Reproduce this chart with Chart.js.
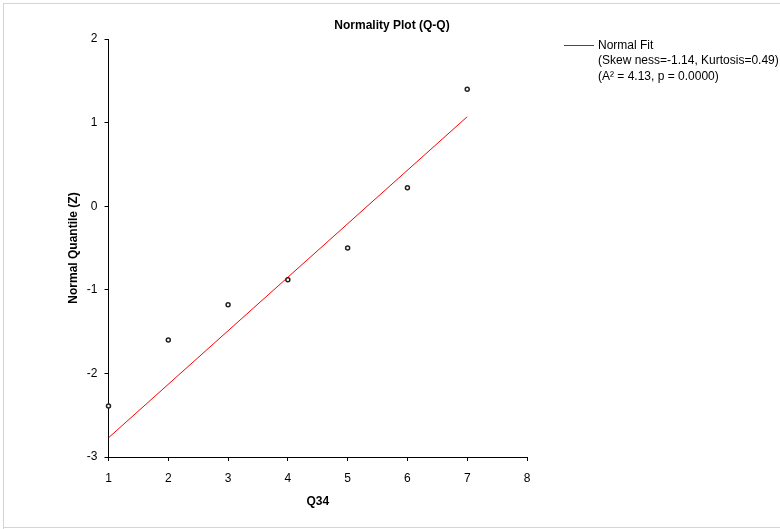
<!DOCTYPE html>
<html>
<head>
<meta charset="utf-8">
<title>Normality Plot (Q-Q)</title>
<script src="https://cdn.jsdelivr.net/npm/chart.js@4"></script>
<style>
  html, body { margin: 0; padding: 0; background: #fff; }
  #wrap { width: 780px; height: 529px; position: relative; }
</style>
</head>
<body>
<div id="wrap"><canvas id="grafico"></canvas></div>
<script>
// valores
const xValues = [1, 2, 3, 4, 5, 6, 7];
const zValues = [-2.39, -1.60, -1.18, -0.88, -0.50, 0.22, 1.40];
// reta do ajuste normal (extremos)
const fitX = [1, 7];
const fitZ = [-2.77, 1.07];
const xTickLabels = ['1', '2', '3', '4', '5', '6', '7', '8'];
const yTickLabels = ['-3', '-2', '-1', '0', '1', '2'];
const legendLines = ['Normal Fit', '(Skew ness=-1.14, Kurtosis=0.49)', '(A\u00B2 = 4.13, p = 0.0000)'];

const fonte = '"Liberation Sans", Arial, sans-serif';

// moldura cinza e legenda desenhadas a mao
const moldura = {
  id: 'moldura',
  beforeDraw(chart) {
    const ctx = chart.ctx;
    ctx.save();
    ctx.fillStyle = '#d4d4d4';
    ctx.fillRect(3, 3, 777, 1);
    ctx.fillRect(3, 3, 1, 526);
    ctx.fillRect(3, 527, 777, 1);
    ctx.restore();
  },
  afterDraw(chart) {
    const ctx = chart.ctx;
    ctx.save();
    ctx.strokeStyle = '#ff0000';
    ctx.lineWidth = 1;
    ctx.beginPath();
    ctx.moveTo(564, 45.5);
    ctx.lineTo(594, 45.5);
    ctx.stroke();
    ctx.fillStyle = '#000';
    ctx.font = '12px ' + fonte;
    ctx.textBaseline = 'middle';
    for (let i = 0; i < legendLines.length; i++) {
      ctx.fillText(legendLines[i], 598, 45.5 + i * 15.5);
    }
    ctx.restore();
  }
};

const pontos = xValues.map(function (x, i) { return {x: x, y: zValues[i]}; });
const reta = fitX.map(function (x, i) { return {x: x, y: fitZ[i]}; });

new Chart(document.getElementById('grafico'), {
  type: 'scatter',
  data: {
    datasets: [
      {
        label: 'Q34',
        data: pontos,
        clip: false,
        pointRadius: 2,
        pointHoverRadius: 2,
        pointBorderWidth: 1.5,
        pointBorderColor: '#222',
        pointBackgroundColor: '#fff',
        showLine: false
      },
      {
        label: 'Normal Fit',
        data: reta,
        showLine: true,
        borderColor: '#ff0000',
        borderWidth: 1,
        pointRadius: 0,
        fill: false
      }
    ]
  },
  options: {
    responsive: true,
    maintainAspectRatio: false,
    animation: false,
    layout: { padding: { left: 4, right: 0, top: 0, bottom: 4 } },
    plugins: {
      legend: { display: false },
      tooltip: { enabled: false },
      title: {
        display: true,
        text: 'Normality Plot (Q-Q)',
        color: '#000',
        font: { family: fonte, size: 12, weight: 'bold', lineHeight: 1.2 },
        padding: { top: 18, bottom: 6.6 }
      }
    },
    scales: {
      x: {
        type: 'linear',
        min: 1,
        max: 8,
        afterFit(scale) { scale.height = 68; },
        afterBuildTicks(scale) {
          scale.ticks = xTickLabels.map(function (t) { return {value: Number(t)}; });
        },
        ticks: { color: '#000', padding: 10, font: { family: fonte, size: 12 } },
        grid: { display: true, drawOnChartArea: false, drawTicks: true, tickLength: 4, color: '#000' },
        border: { display: true, color: '#000', width: 1 },
        title: {
          display: true,
          text: 'Q34',
          color: '#000',
          font: { family: fonte, size: 12, weight: 'bold' },
          padding: { top: 0, bottom: 16 }
        }
      },
      y: {
        type: 'linear',
        min: -3,
        max: 2,
        afterFit(scale) { scale.width = 104.5; },
        afterBuildTicks(scale) {
          scale.ticks = yTickLabels.map(function (t) { return {value: Number(t)}; });
        },
        ticks: { color: '#000', padding: 7, font: { family: fonte, size: 12 } },
        grid: { display: true, drawOnChartArea: false, drawTicks: true, tickLength: 4, color: '#000' },
        border: { display: true, color: '#000', width: 1 },
        title: {
          display: true,
          text: 'Normal Quantile (Z)',
          color: '#000',
          font: { family: fonte, size: 12, weight: 'bold' },
          padding: { top: 62, bottom: 0 }
        }
      },
      direita: {
        type: 'linear',
        position: 'right',
        display: true,
        afterFit(scale) { scale.width = 253; },
        ticks: { display: false },
        grid: { display: false },
        border: { display: false }
      }
    }
  },
  plugins: [moldura]
});
</script>
</body>
</html>
